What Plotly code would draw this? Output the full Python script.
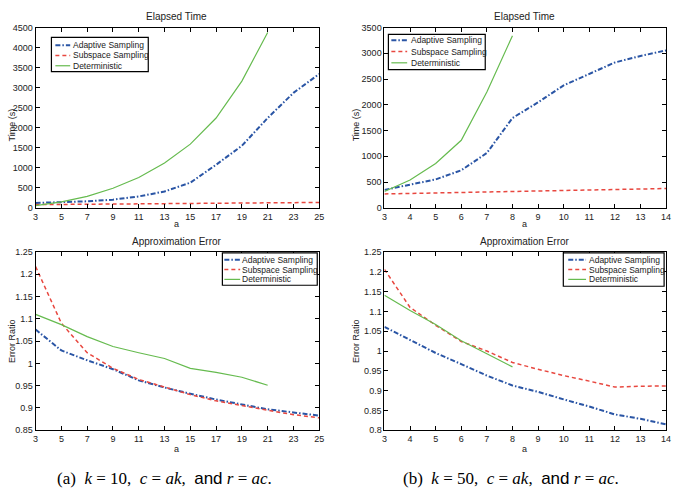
import plotly.graph_objects as go

# ---------------- data ----------------
a_left = [3, 5, 7, 9, 11, 13, 15, 17, 19, 21, 23, 25]
a_left_det = [3, 5, 7, 9, 11, 13, 15, 17, 19, 21]
time_left_adaptive = [122, 139, 163, 204, 285, 408, 628, 1076, 1549, 2242, 2870, 3342]
time_left_subspace = [80, 85, 90, 95, 100, 100, 105, 110, 110, 115, 125, 135]
time_left_det = [57, 147, 285, 489, 758, 1117, 1590, 2242, 3163, 4378]

a_right = [3, 4, 5, 6, 7, 8, 9, 10, 11, 12, 13, 14]
a_right_det = [3, 4, 5, 6, 7, 8]
time_right_adaptive = [349, 444, 552, 729, 1065, 1744, 2048, 2378, 2600, 2822, 2948, 3056]
time_right_subspace = [270, 280, 290, 295, 300, 310, 320, 330, 345, 360, 365, 375]
time_right_det = [317, 539, 862, 1312, 2250, 3341]

err_left_adaptive = [1.076, 1.029, 1.007, 0.987, 0.962, 0.946, 0.932, 0.919, 0.908, 0.897, 0.890, 0.883]
err_left_subspace = [1.217, 1.090, 1.024, 0.989, 0.964, 0.947, 0.930, 0.916, 0.905, 0.895, 0.885, 0.878]
err_left_det = [1.110, 1.087, 1.060, 1.038, 1.024, 1.011, 0.989, 0.980, 0.969, 0.951]

err_right_adaptive = [1.061, 1.028, 0.995, 0.967, 0.938, 0.913, 0.897, 0.878, 0.860, 0.840, 0.829, 0.815]
err_right_subspace = [1.206, 1.110, 1.065, 1.024, 1.000, 0.971, 0.954, 0.938, 0.924, 0.909, 0.911, 0.912]
err_right_det = [1.141, 1.102, 1.067, 1.026, 0.993, 0.960]

names = ["Adaptive Sampling", "Subspace Sampling", "Deterministic"]

# ---------------- styles ----------------
BLUE = "#2a55a5"
RED = "#e8473f"
GREEN = "#66bb4f"
FONT = "Liberation Sans"
STYLES = [dict(color=BLUE, width=2, dash="5px,2px,1.5px,2px"),
          dict(color=RED, width=1.5, dash="4px,3px"),
          dict(color=GREEN, width=1.2)]

def W(px):
    return px / 678.0

def H(py):
    return 1 - py / 498.0

fig = go.Figure()

panels = [
    ("x", "y", a_left, a_left_det, time_left_adaptive, time_left_subspace, time_left_det),
    ("x2", "y2", a_right, a_right_det, time_right_adaptive, time_right_subspace, time_right_det),
    ("x3", "y3", a_left, a_left_det, err_left_adaptive, err_left_subspace, err_left_det),
    ("x4", "y4", a_right, a_right_det, err_right_adaptive, err_right_subspace, err_right_det),
]

for xa, ya, xs, xd, s1, s2, s3 in panels:
    for name, xx, yy, st in zip(names, [xs, xs, xd], [s1, s2, s3], STYLES):
        fig.add_trace(go.Scatter(x=xx, y=yy, mode="lines", name=name, line=st,
                                 xaxis=xa, yaxis=ya, showlegend=False))

axis_common = dict(showline=True, linecolor="black", linewidth=1, mirror="allticks",
                   ticks="inside", ticklen=4, tickcolor="black", showgrid=False,
                   zeroline=False, tickfont=dict(family=FONT, size=9, color="#222"))

xl = [W(33), W(320)]
xr = [W(386), W(671)]
yt = [H(207), H(23)]
yb = [H(434), H(252)]

fig.update_layout(
    width=678, height=498, margin=dict(l=0, r=0, t=0, b=0),
    paper_bgcolor="white", plot_bgcolor="white", showlegend=False,
    font=dict(family=FONT, size=9, color="#222"),
    xaxis=dict(domain=xl, anchor="y", range=[3, 25], tickvals=a_left, **axis_common),
    yaxis=dict(domain=yt, anchor="x", range=[0, 4500], dtick=500, **axis_common),
    xaxis2=dict(domain=xr, anchor="y2", range=[3, 14], dtick=1, **axis_common),
    yaxis2=dict(domain=yt, anchor="x2", range=[0, 3500], dtick=500, **axis_common),
    xaxis3=dict(domain=xl, anchor="y3", range=[3, 25], tickvals=a_left, **axis_common),
    yaxis3=dict(domain=yb, anchor="x3", range=[0.85, 1.25], dtick=0.05, **axis_common),
    xaxis4=dict(domain=xr, anchor="y4", range=[3, 14], dtick=1, **axis_common),
    yaxis4=dict(domain=yb, anchor="x4", range=[0.8, 1.25], dtick=0.05, **axis_common),
)

ann = []
shapes = []

def text(x, y, s, size=10, angle=0, family=FONT, color="#222", anchor="center"):
    ann.append(dict(x=W(x), y=H(y), xref="paper", yref="paper", text=s, showarrow=False,
                    xanchor=anchor, yanchor="middle", textangle=angle,
                    font=dict(family=family, size=size, color=color)))

# MATLAB-style boxed legends
def legend_box(x0, y0, x1, y1, sx0, sx1, tx, rows):
    shapes.append(dict(type="rect", xref="paper", yref="paper",
                       x0=W(x0), x1=W(x1), y0=H(y1), y1=H(y0),
                       line=dict(color="black", width=1.2), fillcolor="white", layer="above"))
    for name, ry, st in zip(names, rows, STYLES):
        shapes.append(dict(type="line", xref="paper", yref="paper",
                           x0=W(sx0), x1=W(sx1), y0=H(ry), y1=H(ry),
                           line=st, layer="above"))
        text(tx, ry, name, size=8.5, anchor="left")

legend_box(49, 33, 147, 68, 53, 68, 69, [41, 51.5, 62])
legend_box(390, 30, 488, 66, 393, 409, 411, [36, 47.5, 59])
legend_box(222, 253, 318, 286, 224, 240, 240, [260, 270, 280])
legend_box(567, 253, 669, 287, 572, 590, 591, [260, 270, 280])

text(176, 12, "Elapsed Time")
text(528, 12, "Elapsed Time")
text(176, 241, "Approximation Error")
text(528, 241, "Approximation Error")
text(176, 223, "a", size=9)
text(528, 223, "a", size=9)
text(176, 453, "a", size=9)
text(528, 453, "a", size=9)
text(9, 122, "Time (s)", size=9, angle=-90)
text(357, 122, "Time (s)", size=9, angle=-90)
text(9, 343, "Error Ratio", size=9, angle=-90)
text(357, 343, "Error Ratio", size=9, angle=-90)

SERIF = "Liberation Serif"
def caption(label, k):
    return (f"({label})&nbsp;&nbsp;<i>k</i> = {k},&nbsp; <i>c</i> = <i>ak</i>,&nbsp; "
            "<span style='font-family:Liberation Sans'>and</span> "
            "<i>r</i> = <i>ac</i>.")

text(163, 483, caption("a", 10), size=17, family=SERIF, color="black")
text(514, 483, caption("b", 50), size=17, family=SERIF, color="black")

fig.update_layout(annotations=ann, shapes=shapes)

fig.write_html("out.html")
